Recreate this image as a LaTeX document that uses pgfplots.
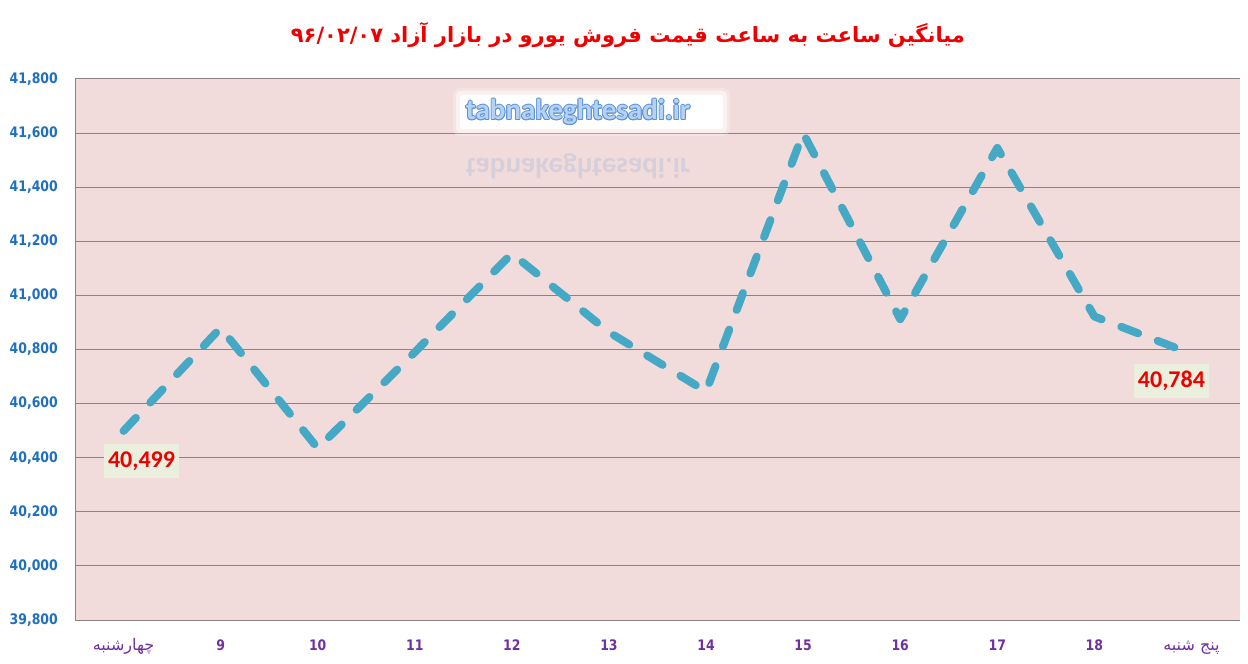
\documentclass[border=0pt]{standalone}
\usepackage{fontspec}
\usepackage{pgfplots}
\pgfplotsset{compat=1.18}
\TeXXeTstate=1
\setmainfont{DejaVu Sans}
\newfontfamily\arabicfont[Script=Arabic]{DejaVu Sans}
\newfontfamily\tickfont[FakeStretch=0.86]{DejaVu Sans}
\newfontfamily\calib{Carlito}
\definecolor{bgpink}{HTML}{F2DCDB}
\definecolor{gridgrey}{HTML}{8C8284}
\definecolor{lineblue}{HTML}{45A9C5}
\definecolor{tickblue}{HTML}{1F6FBF}
\definecolor{xpurple}{HTML}{7030A0}
\definecolor{titlered}{HTML}{EE0000}
\definecolor{labelbg}{HTML}{EBF0DE}
\definecolor{wmfill}{HTML}{B4D2F2}
\definecolor{wmline}{HTML}{5C90D8}
\begin{document}
\begin{tikzpicture}[x=1pt,y=1pt]
\useasboundingbox (0,0) rectangle (1248,664);
\begin{axis}[
  at={(75pt,44pt)}, anchor=south west,
  scale only axis, width=1165pt, height=541pt,
  xmin=-0.5, xmax=11.5, ymin=39800, ymax=41800,
  xtick={0,...,11},
  xticklabels={{\arabicfont\mdseries\fontsize{16}{18}\selectfont\beginR چهارشنبه\endR},9,10,11,12,13,14,15,16,17,18,{\arabicfont\mdseries\fontsize{16}{18}\selectfont\beginR پنج شنبه\endR}},
  ytick={39800,40000,40200,40400,40600,40800,41000,41200,41400,41600,41800},
  scaled y ticks=false,
  /pgf/number format/.cd, 1000 sep={,}, assume math mode=true, /pgfplots/.cd,
  major tick length=0pt,
  axis x line*=bottom, axis y line*=left,
  axis line style={draw=gridgrey, line width=1pt},
  ymajorgrids, grid style={draw=gridgrey, line width=1pt},
  axis background/.style={fill=bgpink},
  yticklabel style={font=\tickfont\bfseries\fontsize{14.5}{16}\selectfont, text=tickblue, anchor=east, inner sep=0pt, xshift=-17pt},
  xticklabel style={font=\tickfont\bfseries\fontsize{14.5}{16}\selectfont, text=xpurple, anchor=base, inner sep=0pt, yshift=-30pt},
  clip=false,
]
\addplot[color=lineblue, line width=8pt, dash pattern=on 18pt off 21pt, line cap=round, line join=round, mark=none] coordinates {
(0,40499) (1,40880) (2,40435) (3,40790) (4,41155) (5,40864)
(6,40645) (7,41600) (8,40912) (9,41545) (10,40922) (11,40784)
};
\node[fill=labelbg, text=titlered, font=\calib\bfseries\fontsize{24}{26}\selectfont, minimum width=75pt, minimum height=34pt, inner sep=0pt, xshift=18pt, yshift=-30pt] at (axis cs:0,40499) {40,499};
\node[fill=labelbg, text=titlered, font=\calib\bfseries\fontsize{24}{26}\selectfont, minimum width=75pt, minimum height=34pt, inner sep=0pt, xshift=-20pt, yshift=-27pt] at (axis cs:11,40784) {40,784};
\end{axis}
% title
\node[font=\arabicfont\bfseries\fontsize{21}{25}\selectfont, text=titlered] at (628,629) {\beginR میانگین ساعت به ساعت قیمت فروش یورو در بازار آزاد \beginL۹۶/۰۲/۰۷\endL\endR};
% watermark
\fill[white, opacity=0.25, rounded corners=8pt] (453,528) rectangle (730,576);
\fill[white, opacity=0.5, rounded corners=5pt] (456,531) rectangle (727,573);
\fill[white, rounded corners=3pt] (460,535) rectangle (723,569);
\foreach \dx/\dy in {0.9/0,-0.9/0,0/0.9,0/-0.9,0.7/0.7,-0.7/-0.7,0.7/-0.7,-0.7/0.7}{
  \node[font=\calib\bfseries\fontsize{29}{30}\selectfont, text=wmline, inner sep=0pt] at (578+\dx,552+\dy) {tabnakeghtesadi.ir};
}
\node[font=\calib\bfseries\fontsize{29}{30}\selectfont, text=wmfill, inner sep=0pt] at (578,552) {tabnakeghtesadi.ir};
\begin{scope}[shift={(578,498)}, yscale=-1]
\node[transform shape, font=\calib\bfseries\fontsize{29}{30}\selectfont, text=wmline, opacity=0.18, inner sep=0pt] at (0,0) {tabnakeghtesadi.ir};
\end{scope}
\end{tikzpicture}
\end{document}
